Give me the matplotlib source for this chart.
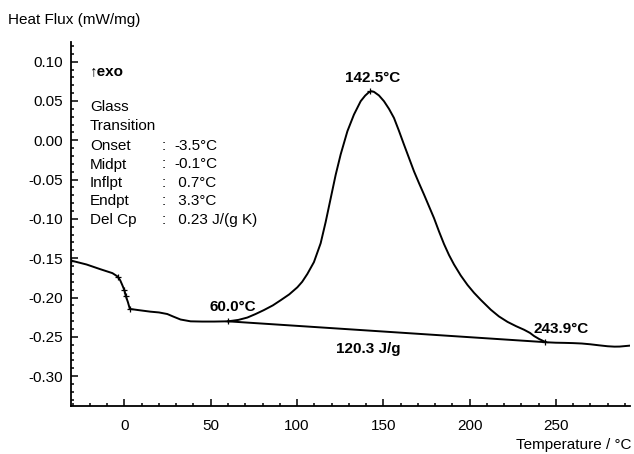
"""DSC curve: heat flux vs temperature with glass transition and melting peak."""

import matplotlib
matplotlib.use("Agg")
import matplotlib.pyplot as plt
from matplotlib.ticker import MultipleLocator

plt.rcParams["font.family"] = ["Liberation Sans", "DejaVu Sans"]

temp = [-31, -22, -14, -7, -4.2, -2.5, -1.3, 0, 0.6, 2, 3.1, 8, 15, 20, 24.8,
        28, 32.5, 38.3, 45, 52, 60, 66, 71.2, 76, 80.8, 86, 90.5, 95.5,
        100.2, 103, 106, 109.8, 113.7, 116.6, 119.5, 122.4, 125.3, 129.2,
        133, 136.9, 139.5, 141.5, 143, 144.6, 147.5, 150.4, 153.3, 156.2,
        159, 162, 164.9, 167.8, 170.7, 173.6, 176.5, 179.4, 182.3, 185.2,
        188.1, 191, 194.9, 198.8, 202.6, 206.5, 212.3, 217, 222, 227,
        231.6, 235, 237.4, 240.5, 243.2, 245, 250, 255, 260, 265, 270, 275,
        280, 284, 287, 290, 293]
flux = [-0.153, -0.158, -0.164, -0.169, -0.173, -0.178, -0.184, -0.191,
        -0.197, -0.206, -0.2145, -0.2160, -0.218, -0.219, -0.221, -0.224,
        -0.228, -0.2303, -0.2306, -0.2306, -0.2303, -0.2285, -0.2255,
        -0.221, -0.2160, -0.2100, -0.2035, -0.1960, -0.1870, -0.1800,
        -0.1700, -0.1550, -0.1310, -0.1040, -0.0740, -0.0440, -0.0180,
        0.0115, 0.0327, 0.0497, 0.0568, 0.0608, 0.0624, 0.0616, 0.0570,
        0.0497, 0.0400, 0.0284, 0.0125, -0.0055, -0.0225, -0.0395, -0.0545,
        -0.0690, -0.0840, -0.0990, -0.1160, -0.1320, -0.1460, -0.1580,
        -0.1720, -0.1840, -0.1940, -0.2030, -0.2155, -0.2240, -0.2310,
        -0.2365, -0.2410, -0.2450, -0.2490, -0.2530, -0.2558, -0.2570,
        -0.2575, -0.2577, -0.2580, -0.2585, -0.2595, -0.2608, -0.2620,
        -0.2625, -0.2624, -0.2618, -0.2612]

# integration baseline
base_t = [60.0, 243.9]
base_f = [-0.2303, -0.2568]

# evaluation marks
mark_t = [-31, -3.5, -0.1, 0.7, 3.3, 60.0, 142.5, 243.9]
mark_f = [-0.153, -0.1745, -0.191, -0.198, -0.2145, -0.2303, 0.0622, -0.2568]

gt_names = ["Onset", "Midpt", "Inflpt", "Endpt", "Del Cp"]
gt_values = ["-3.5°C", "-0.1°C", " 0.7°C", " 3.3°C", " 0.23 J/(g K)"]

W, H = 634, 454
fs = 11
fig = plt.figure(figsize=(W / 100, H / 100), dpi=100)
ax = fig.add_axes([71 / W, 1 - 406 / H, 559 / W, 364 / H])

ax.plot(temp, flux, color="black", lw=1.4)
ax.plot(base_t, base_f, color="black", lw=1.4)
ax.plot(mark_t, mark_f, "+", color="black", ms=5, mew=0.9)

ax.set_xlim(-31, 293)
ax.set_ylim(-0.338, 0.125)

ax.xaxis.set_major_locator(MultipleLocator(50))
ax.xaxis.set_minor_locator(MultipleLocator(10))
ax.yaxis.set_major_locator(MultipleLocator(0.05))
ax.yaxis.set_minor_locator(MultipleLocator(0.01))
ax.yaxis.set_major_formatter(lambda v, p: f"{v:.2f}")

for side in ["top", "right"]:
    ax.spines[side].set_visible(False)
ax.spines["left"].set_linewidth(1.3)
ax.spines["bottom"].set_linewidth(1.3)
ax.tick_params(which="both", direction="in", width=1.1, labelsize=fs,
               colors="black")
ax.tick_params(which="major", length=5)
ax.tick_params(which="minor", length=2.5)
ax.tick_params(axis="x", pad=9)
ax.tick_params(axis="y", pad=6)

fig.text(8 / W, 1 - 20 / H, "Heat Flux (mW/mg)", fontsize=fs, va="center")
fig.text(631 / W, 1 - 445 / H, "Temperature / °C", fontsize=fs,
         ha="right", va="center")

fig.text(90 / W, 1 - 71 / H, "↑exo", fontsize=fs, va="center",
         fontweight="bold")
fig.text(90 / W, 1 - 107 / H, "Glass", fontsize=fs, va="center")
fig.text(90 / W, 1 - 126 / H, "Transition", fontsize=fs, va="center")
for i, (name, val) in enumerate(zip(gt_names, gt_values)):
    y = 1 - (146 + i * 18.5) / H
    fig.text(90 / W, y, name, fontsize=fs, va="center")
    fig.text(162 / W, y, ":", fontsize=fs, va="center")
    fig.text(174 / W, y, val, fontsize=fs, va="center")

ax.text(143.9, 0.079, "142.5°C", fontsize=fs, fontweight="bold",
        ha="center", va="center")
ax.text(62.6, -0.2115, "60.0°C", fontsize=fs, fontweight="bold",
        ha="center", va="center")
ax.text(252.9, -0.2395, "243.9°C", fontsize=fs, fontweight="bold",
        ha="center", va="center")
ax.text(141, -0.265, "120.3 J/g", fontsize=fs, fontweight="bold",
        ha="center", va="center")

fig.savefig("out.png", dpi=100)
